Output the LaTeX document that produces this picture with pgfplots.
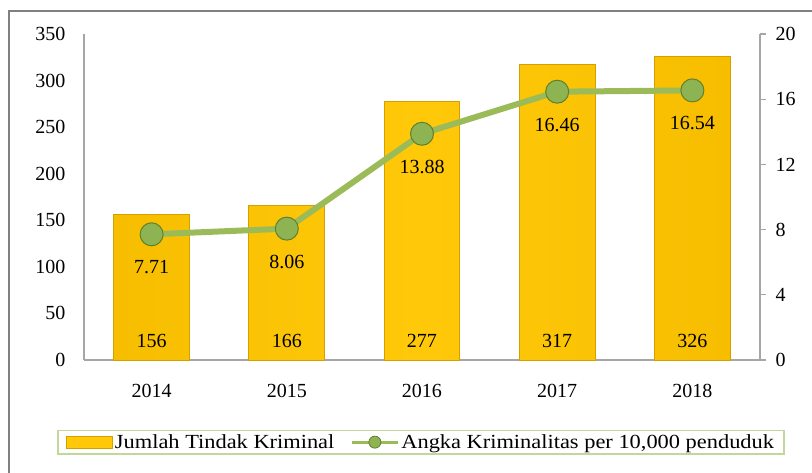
\documentclass[border=0pt]{standalone}
\usepackage{fontspec}
\setmainfont{Liberation Serif}
\newfontfamily\legfont[FakeStretch=1.12]{Liberation Serif}
\usepackage{pgfplots}
\pgfplotsset{compat=1.18}
\definecolor{barfill}{HTML}{FFC90A}
\definecolor{barside}{HTML}{F7BE00}
\definecolor{barborder}{HTML}{D4A000}
\definecolor{linegreen}{HTML}{9BBB59}
\definecolor{markgreen}{HTML}{8DB352}
\definecolor{markdark}{HTML}{627F2E}
\definecolor{axisgray}{HTML}{A6A6A6}
\definecolor{framegray}{HTML}{808080}
\definecolor{legendgreen}{HTML}{C3D69B}
\newcommand{\tfont}{\fontsize{20}{22}\selectfont}
\begin{document}
\begin{tikzpicture}[x=1pt,y=1pt]
\useasboundingbox (0,0) rectangle (812,472);
\draw[color=framegray, line width=2.5] (9,-5) -- (9,461) -- (817,461);
\begin{axis}[at={(84pt,112pt)}, anchor=south west, scale only axis,
  width=676pt, height=326pt,
  xmin=-0.5, xmax=4.5, ymin=0, ymax=350,
  axis lines*=left,
  axis line style={axisgray, line width=1.2pt},
  ytick={0,50,...,350},
  xtick={0,1,2,3,4},
  xticklabels={2014,2015,2016,2017,2018},
  major tick length=0pt,
  tick label style={font=\tfont},
  /pgf/number format/assume math mode=true,
  yticklabel style={xshift=-15pt},
  xticklabel style={yshift=-21pt},
  clip=false]
\addplot[ybar, bar width=0.56, left color=barside, right color=barside, middle color=barfill, draw=barborder, line width=1pt]
  coordinates {(0,156) (1,166) (2,277) (3,317) (4,326)};
\addplot[draw=none, mark=none, nodes near coords, point meta=explicit symbolic,
  nodes near coords style={font=\tfont, anchor=center}]
  coordinates {(0,20)[156] (1,20)[166] (2,20)[277] (3,20)[317] (4,20)[326]};
\end{axis}
\begin{axis}[at={(84pt,112pt)}, anchor=south west, scale only axis,
  width=676pt, height=326pt,
  xmin=-0.5, xmax=4.5, ymin=0, ymax=20,
  axis y line*=right, axis x line=none,
  axis line style={axisgray, line width=1.2pt},
  ytick={0,4,...,20},
  tick align=outside, major tick length=6pt,
  ytick style={axisgray, line width=1.2pt},
  tick label style={font=\tfont},
  /pgf/number format/assume math mode=true,
  yticklabel style={xshift=6pt},
  clip=false,
  legend columns=2,
  legend style={at={(0.4985,-0.252)}, anchor=center, draw=legendgreen, line width=1.5pt,
    font=\legfont\tfont, inner xsep=8pt, inner ysep=2pt,
    /tikz/every even column/.append style={column sep=14pt}},
  legend cell align=left]
\addlegendimage{legend image code/.code={\draw[fill=barfill, draw=barborder, line width=1pt] (0pt,-6pt) rectangle (46pt,6pt);}}
\addlegendentry{Jumlah Tindak Kriminal}
\addlegendimage{legend image code/.code={\draw[linegreen, line width=3pt] (0pt,0pt) -- (46pt,0pt); \filldraw[fill=markgreen, draw=markdark, line width=0.8pt] (23pt,0pt) circle (6pt);}}
\addlegendentry{Angka Kriminalitas per 10,000 penduduk}
\addplot[forget plot, color=linegreen, line width=6pt, mark=*, mark size=11.5pt,
  mark options={fill=markgreen, draw=markdark, line width=1pt},
  nodes near coords, point meta=explicit symbolic,
  nodes near coords style={font=\tfont, anchor=center, yshift=-33pt, text=black}]
  coordinates {(0,7.71)[7.71] (1,8.06)[8.06] (2,13.88)[13.88] (3,16.46)[16.46] (4,16.54)[16.54]};
\end{axis}
\end{tikzpicture}
\end{document}
